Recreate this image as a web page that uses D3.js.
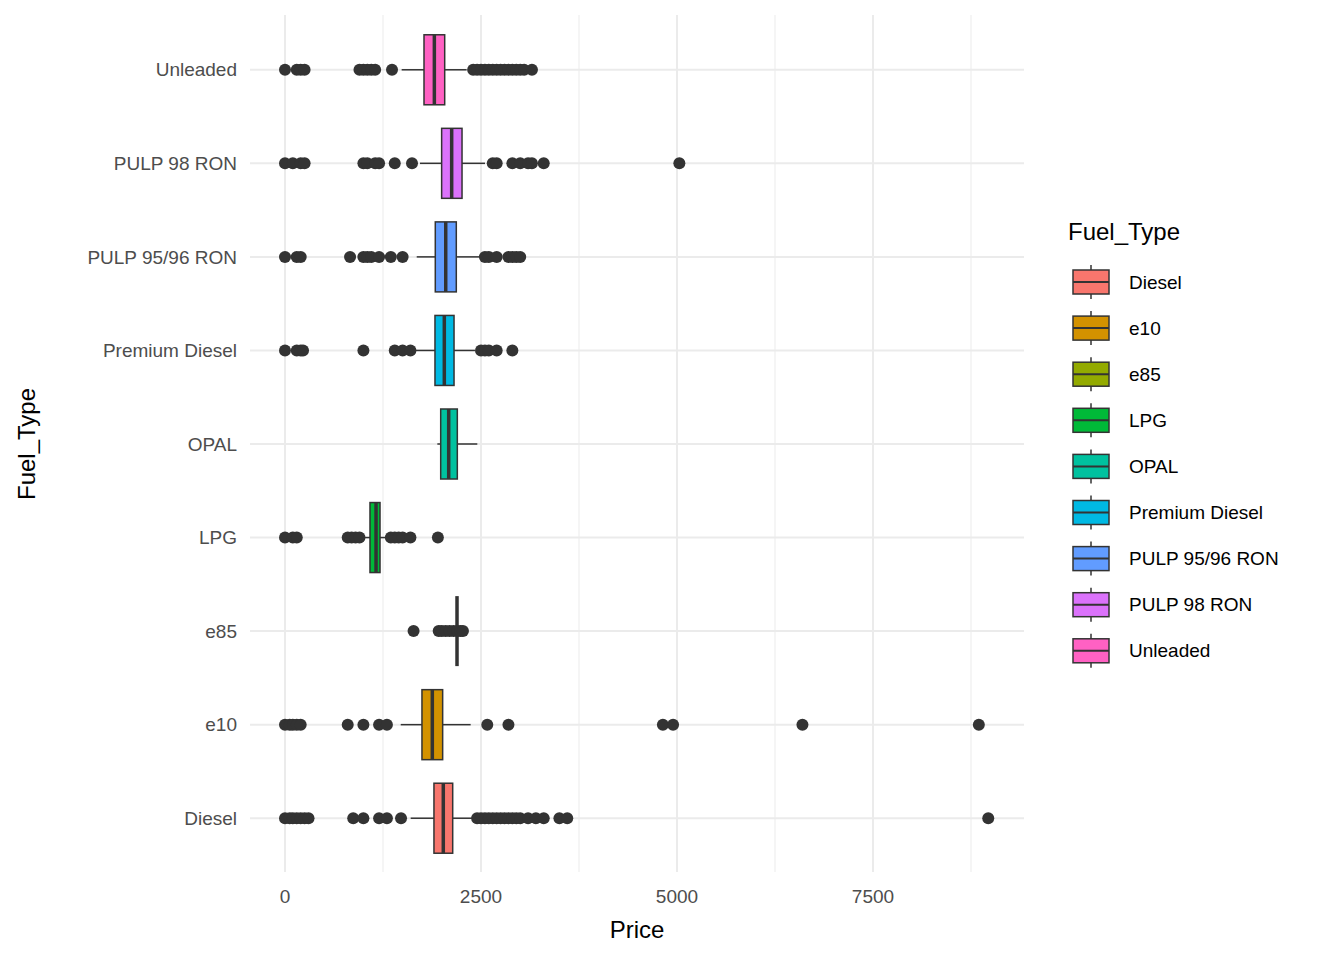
<!DOCTYPE html>
<html><head><meta charset="utf-8">
<script src="https://cdn.jsdelivr.net/npm/d3@7"></script>
<style>body{margin:0;background:#fff;font-family:"Liberation Sans",Arial,sans-serif}</style>
</head><body><div id="chart"></div>
<script>
const fuelTypes = ['Diesel','e10','e85','LPG','OPAL','Premium Diesel','PULP 95/96 RON','PULP 98 RON','Unleaded']
const colors = ['#F8766D','#D39200','#93AA00','#00BA38','#00C19F','#00B9E3','#619CFF','#DB72FB','#FF61C3']
// [whiskerLow, q1, median, q3, whiskerHigh]
const stats = [
  [1603,1900,2019,2139,2411],
  [1476,1747,1879,2011,2368],
  [2194,2194,2194,2194,2194],
  [999,1084,1161,1212,1318],
  [1943,1986,2088,2198,2453],
  [1658,1913,2032,2156,2423],
  [1680,1917,2050,2185,2487],
  [1722,1998,2126,2258,2551],
  [1488,1773,1905,2037,2317]
]
const outliers = [
  [0,60,100,150,200,250,300,870,1000,1200,1300,1480,2450,2500,2550,2600,2650,2700,2750,2800,2850,2900,2950,3000,3100,3200,3300,3500,3600,8970],
  [0,60,100,150,200,800,1000,1200,1300,2580,2850,4820,4950,6600,8850],
  [1640,1960,2000,2050,2100,2150,2200,2240,2270],
  [0,100,150,800,850,900,950,1350,1400,1450,1500,1600,1950],
  [],
  [0,150,200,230,1000,1400,1500,1600,2500,2550,2600,2700,2900],
  [0,150,200,830,1000,1050,1100,1200,1350,1500,2550,2600,2700,2850,2900,2950,3000],
  [0,100,200,250,1000,1050,1150,1200,1400,1620,2650,2700,2900,3000,3100,3150,3300,5030],
  [0,150,200,250,950,1000,1050,1100,1150,1365,2400,2450,2500,2550,2600,2650,2700,2750,2800,2850,2900,2950,3000,3050,3150]
]
const xTicks = [0,2500,5000,7500]

const width = 1344, height = 960
const svg = d3.select('#chart').append('svg').attr('width', width).attr('height', height)

const x = d3.scaleLinear().domain([0,2500]).range([285,481])
const y = d3.scaleBand().domain(fuelTypes).range([865,23]).padding(0)
const grid = svg.append('g')

// major and minor gridlines
d3.range(-1250, 9000, 1250).filter(v => x(v) >= 250 && x(v) <= 1024).forEach((v, i) => {
  grid.append('line').attr('x1', x(v)).attr('x2', x(v)).attr('y1', 15).attr('y2', 872)
    .attr('stroke', '#ebebeb').attr('stroke-width', v % 2500 === 0 ? 2 : 1)
})
fuelTypes.forEach(f => {
  const cy = y(f) + y.bandwidth() / 2
  grid.append('line').attr('x1', 250).attr('x2', 1024).attr('y1', cy).attr('y2', cy)
    .attr('stroke', '#ebebeb').attr('stroke-width', 2)
})

const bh = 70
const boxes = svg.append('g').selectAll('g').data(fuelTypes).enter().append('g')
  .attr('transform', d => `translate(0,${y(d) + y.bandwidth() / 2})`)

boxes.each(function(f, i) {
  const g = d3.select(this), s = stats[i]
  g.append('line').attr('x1', x(s[0])).attr('x2', x(s[1])).attr('stroke', '#333').attr('stroke-width', 1.5)
  g.append('line').attr('x1', x(s[3])).attr('x2', x(s[4])).attr('stroke', '#333').attr('stroke-width', 1.5)
  g.append('rect').attr('x', x(s[1])).attr('y', -bh / 2).attr('width', Math.max(0, x(s[3]) - x(s[1]))).attr('height', bh)
    .attr('fill', colors[i]).attr('stroke', '#333').attr('stroke-width', 1.5)
  g.append('line').attr('x1', x(s[2])).attr('x2', x(s[2])).attr('y1', -bh / 2).attr('y2', bh / 2)
    .attr('stroke', '#333').attr('stroke-width', 3.5)
  g.selectAll('circle').data(outliers[i]).enter().append('circle')
    .attr('cx', d => x(d)).attr('r', 6).attr('fill', '#333')
})

// axes labels
const tickTxt = svg.append('g').attr('fill', '#4d4d4d').style('font-size', '19px')
fuelTypes.forEach(f => {
  tickTxt.append('text').attr('x', 237).attr('y', y(f) + y.bandwidth() / 2).attr('dy', '0.35em')
    .attr('text-anchor', 'end').text(f)
})
xTicks.forEach(v => {
  tickTxt.append('text').attr('x', x(v)).attr('y', 903).attr('text-anchor', 'middle').text(v)
})
svg.append('text').attr('x', 637).attr('y', 938).attr('text-anchor', 'middle').style('font-size', '24px').text('Price')
svg.append('text').attr('transform', 'translate(35,444) rotate(-90)').attr('text-anchor', 'middle')
  .style('font-size', '24px').text('Fuel_Type')

// legend
const legend = svg.append('g')
legend.append('text').attr('x', 1068).attr('y', 240).style('font-size', '24px').text('Fuel_Type')
fuelTypes.forEach((f, i) => {
  const cy = 282 + i * 46.1
  const lg = legend.append('g').attr('transform', `translate(1073,${cy})`)
  lg.append('line').attr('x1', 18).attr('x2', 18).attr('y1', -17).attr('y2', 17).attr('stroke', '#333').attr('stroke-width', 1.5)
  lg.append('rect').attr('x', 0).attr('y', -12).attr('width', 36).attr('height', 24)
    .attr('fill', colors[i]).attr('stroke', '#333').attr('stroke-width', 1.5)
  lg.append('line').attr('x1', 0).attr('x2', 36).attr('stroke', '#333').attr('stroke-width', 2)
  lg.append('text').attr('x', 56).attr('dy', '0.35em').style('font-size', '19px').text(f)
})
</script></body></html>
